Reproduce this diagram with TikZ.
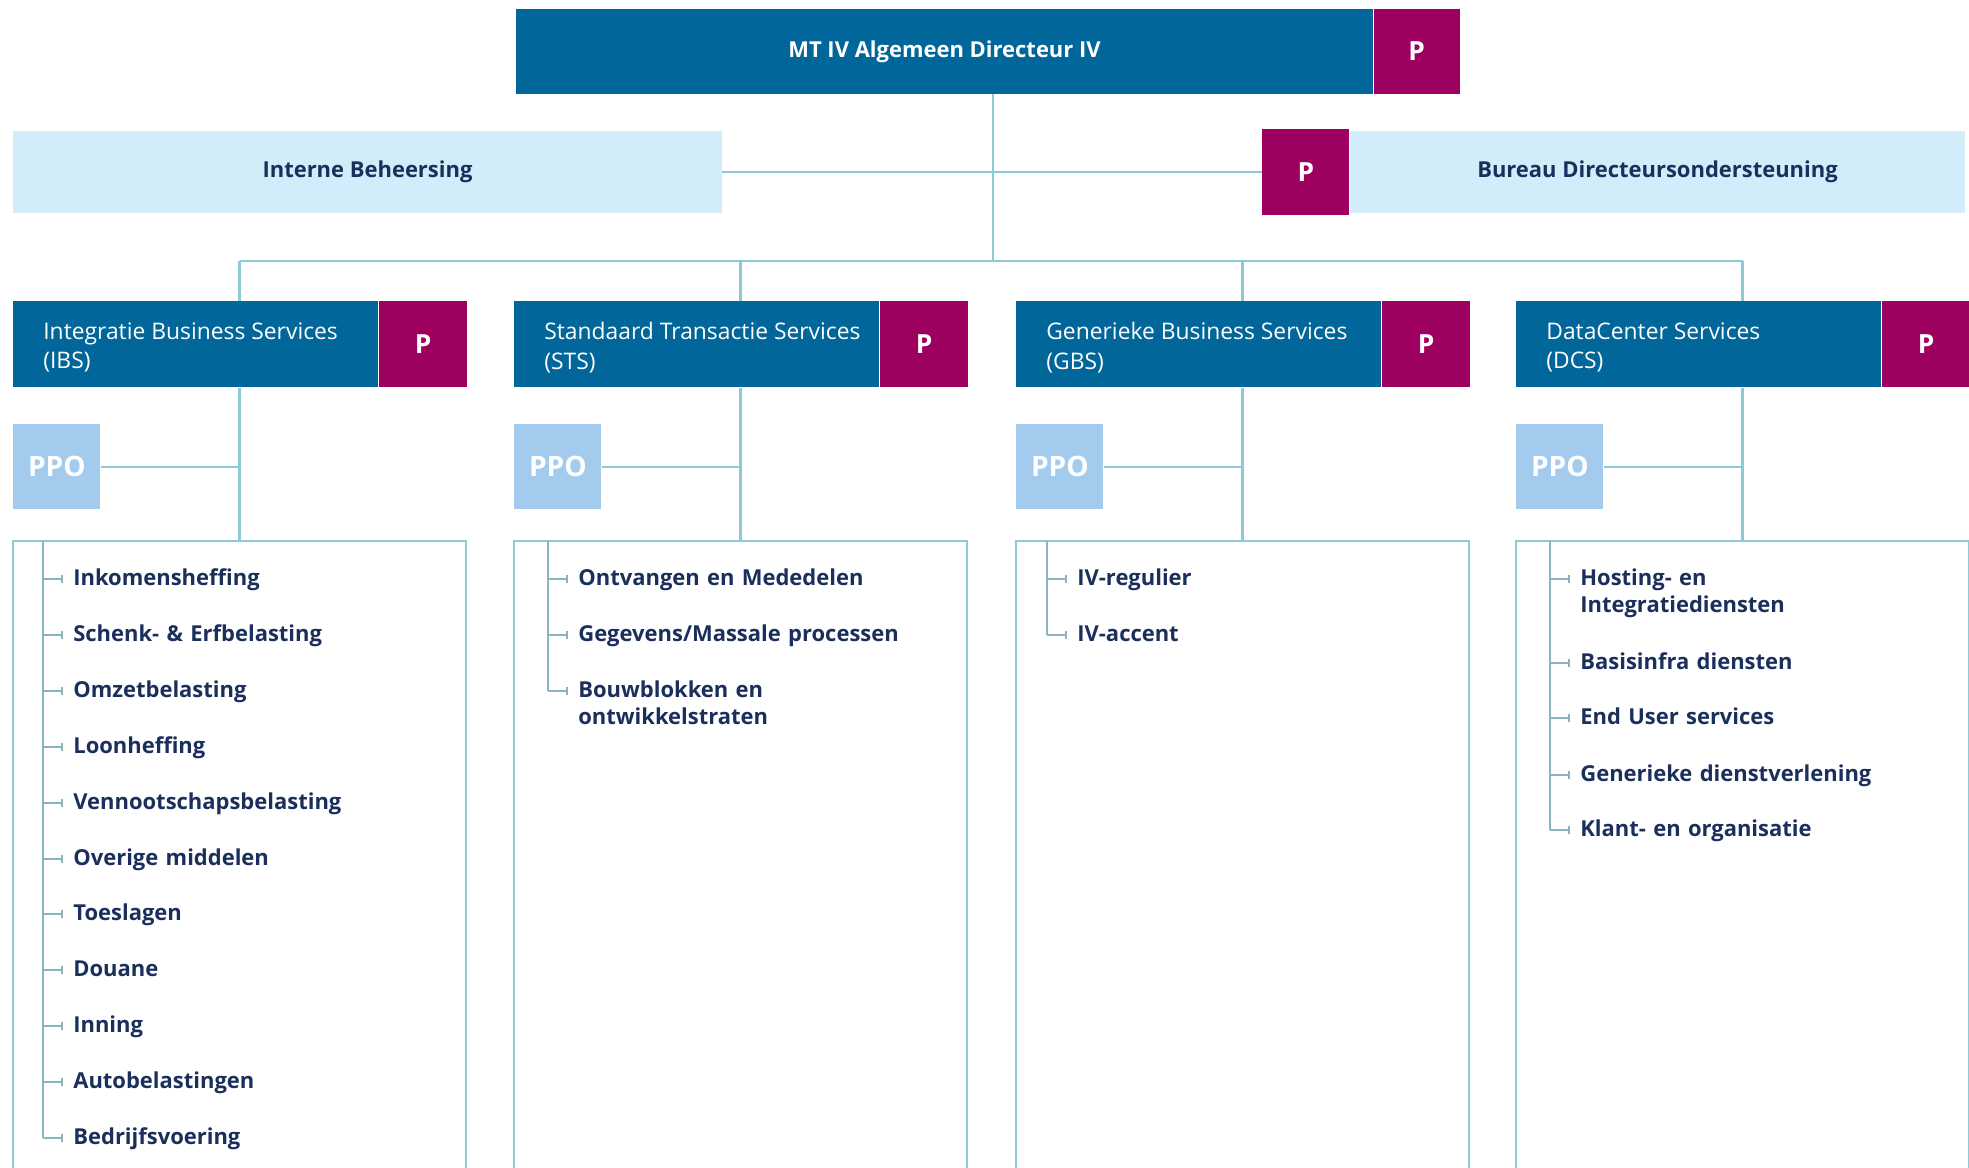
\documentclass[tikz,border=0pt]{standalone}
\usepackage{fontspec}
\setmainfont{Open Sans}
\usetikzlibrary{positioning,arrows.meta}

\definecolor{rijkblauw}{HTML}{01669A}
\definecolor{paars}{HTML}{9E005F}
\definecolor{lichtblauw}{HTML}{D2ECFA}
\definecolor{ppoblauw}{HTML}{A3CBEE}
\definecolor{lijn}{HTML}{8DCAD8}
\definecolor{navy}{HTML}{1B2F5C}

\begin{document}
\begin{tikzpicture}[x=0.2mm, y=-0.2mm,
    lijnstijl/.style={draw=lijn, line width=0.5mm},
    hoofd/.style={fill=rijkblauw, text=white, minimum height=17.2mm, inner sep=0pt},
    kop/.style={text=white, font=\fontsize{13}{17}\selectfont, align=left, inner sep=0pt},
    pbox/.style={fill=paars, text=white, font=\bfseries\fontsize{15}{18}\selectfont, minimum width=17.6mm, minimum height=17.2mm, inner sep=0pt},
    staf/.style={fill=lichtblauw, text=navy, font=\bfseries\fontsize{12.5}{15}\selectfont, minimum height=16.4mm, inner sep=0pt},
    ppo/.style={fill=ppoblauw, text=white, font=\bfseries\fontsize{16}{19}\selectfont, minimum width=17.4mm, minimum height=17mm, inner sep=0pt},
    afd/.style={text=navy, font=\bfseries\fontsize{12.5}{15.5}\selectfont, text width=75mm, align=left, inner sep=0pt, anchor=mid west, yshift=-0.4mm},
    tak/.style={draw=lijn!70!gray, line width=0.4mm, -{Bar[width=1.6mm]}}]

    \useasboundingbox (0,0) rectangle (1969,1167);

    % directie
    \node[hoofd, minimum width=171.4mm, minimum height=17mm, font=\bfseries\fontsize{12.5}{16}\selectfont] (MT) at (944.5,51.5) {MT IV Algemeen Directeur IV};
    \node[pbox, minimum width=17.2mm, minimum height=17mm, right=0pt of MT] (MTP) {P};
    \coordinate (stam) at (993,261);

    % staf
    \node[staf, minimum width=141.8mm] (IB) at (367.5,172) {Interne Beheersing};
    \node[staf, minimum width=123mm] (BDO) at (1657.5,172) {Bureau Directeursondersteuning};
    \node[pbox, minimum width=17.4mm, left=0pt of BDO] (BDOP) {P};

    \draw[lijnstijl] (stam |- MT.south) -- (stam);
    \draw[lijnstijl] (IB.east) -- (BDOP.west);

    % divisies
    \foreach \k/\lx/\titel in {1/13/{Integratie Business Services\\(IBS)},
                               2/514/{Standaard Transactie Services\\(STS)},
                               3/1016/{Generieke Business Services\\(GBS)},
                               4/1516/{DataCenter Services\\(DCS)}} {
        \node[hoofd, minimum width=73mm, anchor=north west] (div\k) at (\lx,301) {};
        \node[kop, anchor=west] (kop\k) at ([xshift=6mm, yshift=-0.6mm]div\k.west) {\titel};
        \node[pbox, right=0pt of div\k] (divP\k) {P};
        \node[ppo, anchor=north west] (ppo\k) at (\lx,424) {PPO};
        \coordinate (m\k) at (\lx+226.5,261);
        \coordinate (box\k) at (\lx+226.5,541);
        \draw[lijnstijl] (m\k) -- (m\k |- div\k.north);
        \draw[lijnstijl] (m\k |- div\k.south) -- (box\k);
        \draw[lijnstijl] (ppo\k.east) -- (ppo\k.east -| box\k);
        \draw[lijnstijl] (\lx,1170) |- (\lx+453,541) -- (\lx+453,1170);
    }
    \draw[lijnstijl] (m1) -- (m4);

    % afdelingen IBS
    \foreach \y/\t [count=\i] in {579/Inkomensheffing, 635/{Schenk- \& Erfbelasting}, 691/Omzetbelasting,
                                  747/Loonheffing, 803/Vennootschapsbelasting, 859/Overige middelen,
                                  914/Toeslagen, 970/Douane, 1026/Inning, 1082/Autobelastingen,
                                  1138/Bedrijfsvoering} {
        \coordinate (t1\i) at (43,\y);
        \node[afd] (a1\i) at (73,\y) {\t};
        \draw[tak] (t1\i) -- ([xshift=-2mm, yshift=0.4mm]a1\i.mid west);
    }
    \draw[tak, -] (43,541) -- (t111);

    % afdelingen STS
    \foreach \y/\t [count=\i] in {579/Ontvangen en Mededelen, 635/{Gegevens/Massale processen},
                                  691/{Bouwblokken en\\ontwikkelstraten}} {
        \coordinate (t2\i) at (548,\y);
        \node[afd] (a2\i) at (578,\y) {\t};
        \draw[tak] (t2\i) -- ([xshift=-2mm, yshift=0.4mm]a2\i.mid west);
    }
    \draw[tak, -] (548,541) -- (t23);

    % afdelingen GBS
    \foreach \y/\t [count=\i] in {579/IV-regulier, 635/IV-accent} {
        \coordinate (t3\i) at (1047,\y);
        \node[afd] (a3\i) at (1077,\y) {\t};
        \draw[tak] (t3\i) -- ([xshift=-2mm, yshift=0.4mm]a3\i.mid west);
    }
    \draw[tak, -] (1047,541) -- (t32);

    % afdelingen DCS
    \foreach \y/\t [count=\i] in {579/{Hosting- en\\Integratiediensten}, 663/Basisinfra diensten,
                                  718/End User services, 775/Generieke dienstverlening,
                                  830/Klant- en organisatie} {
        \coordinate (t4\i) at (1550,\y);
        \node[afd] (a4\i) at (1580,\y) {\t};
        \draw[tak] (t4\i) -- ([xshift=-2mm, yshift=0.4mm]a4\i.mid west);
    }
    \draw[tak, -] (1550,541) -- (t45);
\end{tikzpicture}
\end{document}
